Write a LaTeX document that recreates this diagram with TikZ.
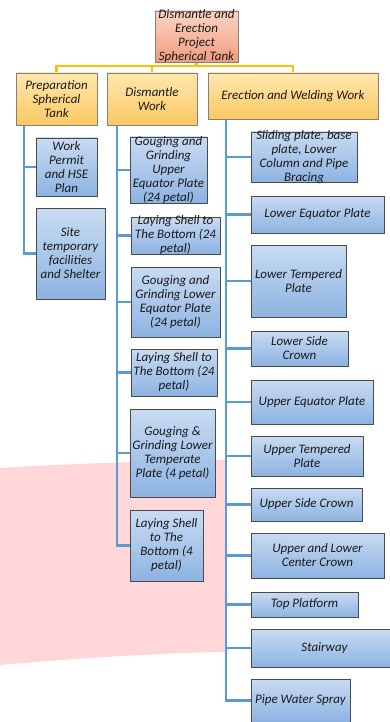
\documentclass[tikz,border=0pt]{standalone}
\usepackage{fontspec}
\setmainfont{Carlito}
\definecolor{bluetop}{HTML}{C8DBF2}
\definecolor{bluebot}{HTML}{8DB3E2}
\definecolor{orgtop}{HTML}{FFE7AE}
\definecolor{orgbot}{HTML}{FBC862}
\definecolor{roottop}{HTML}{FBD5C2}
\definecolor{rootbot}{HTML}{F09C7E}
\definecolor{boxline}{HTML}{4A4A4A}
\definecolor{grayline}{HTML}{808080}
\definecolor{linkblue}{HTML}{5B9BD5}
\definecolor{linkyel}{HTML}{FFC000}
\definecolor{pinkband}{HTML}{FFD7D9}
\definecolor{txtc}{HTML}{1A1A1A}
\pgfdeclarelayer{bg}
\pgfsetlayers{bg,main}
\newcommand\obox[8]{%
  \node[#1, minimum width=#5pt, minimum height=#6pt] (#2) at (#3,#4) {};
  \node[txt] at ([xshift=#7pt]#2.center) {#8};}
\begin{document}
\begin{tikzpicture}[x=1pt,y=-1pt,
  basebox/.style={rectangle, inner sep=0pt, outer sep=0pt, anchor=north west, line width=0.8pt},
  bluebox/.style={basebox, draw=boxline, top color=bluetop, bottom color=bluebot},
  orgbox/.style={basebox, draw=grayline, top color=orgtop, bottom color=orgbot},
  rootbox/.style={basebox, draw=grayline, top color=roottop, bottom color=rootbot},
  txt/.style={inner sep=0pt, align=center, text=txtc, font=\fontsize{13}{14}\selectfont\itshape},
  bl/.style={draw=linkblue, line width=2.8pt},
  yl/.style={draw=linkyel, line width=2.6pt}]
\useasboundingbox (0,0) rectangle (390,722);
% root and level 1
\obox{rootbox}{root}{155}{11}{83}{51}{0}{Dismantle and\\Erection\\Project\\Spherical Tank}
\obox{orgbox}{prep}{16}{73}{81}{52}{0}{Preparation\\Spherical\\Tank}
\obox{orgbox}{dism}{107}{73}{90}{52}{0}{Dismantle\\Work}
\obox{orgbox}{erec}{208}{73}{170}{46}{0}{Erection and Welding Work}
% preparation children
\obox{bluebox}{wp}{36}{138}{61}{58}{0}{Work\\Permit\\and HSE\\Plan}
\obox{bluebox}{site}{36}{208}{69}{91}{0}{Site\\temporary\\facilities\\and Shelter}
% dismantle children
\obox{bluebox}{gu}{130}{137}{77}{66}{0}{Gouging and\\Grinding\\Upper\\Equator Plate\\(24 petal)}
\obox{bluebox}{lsa}{131}{217}{89}{37}{0}{Laying Shell to\\The Bottom (24\\petal)}
\obox{bluebox}{gl}{131}{267}{89}{70}{0}{Gouging and\\Grinding Lower\\Equator Plate\\(24 petal)}
\obox{bluebox}{lsb}{131}{349}{86}{47}{0}{Laying Shell to\\The Bottom (24\\petal)}
\obox{bluebox}{gg}{130}{409}{85}{88}{0}{Gouging \&\\Grinding Lower\\Temperate\\Plate (4 petal)}
\obox{bluebox}{lsc}{130}{510}{73}{71}{0}{Laying Shell\\to The\\Bottom (4\\petal)}
% erection children
\obox{bluebox}{sp}{251}{132}{106}{50}{0}{Sliding plate, base\\plate, Lower\\Column and Pipe\\Bracing}
\obox{bluebox}{lep}{251}{196}{133}{37}{0}{Lower Equator Plate}
\obox{bluebox}{ltp}{251}{245}{95}{72}{0}{Lower Tempered\\Plate}
\obox{bluebox}{lsd}{251}{331}{97}{35}{0}{Lower Side\\Crown}
\obox{bluebox}{uep}{251}{380}{122}{44}{0}{Upper Equator Plate}
\obox{bluebox}{utp}{251}{436}{112}{40}{0}{Upper Tempered\\Plate}
\obox{bluebox}{usc}{251}{488}{111}{33}{0}{Upper Side Crown}
\obox{bluebox}{ulc}{251}{533}{133}{45}{0}{Upper and Lower\\Center Crown}
\obox{bluebox}{tp}{251}{592}{107}{25}{0}{Top Platform}
\obox{bluebox}{st}{251}{629}{139}{38}{4}{Stairway}
\obox{bluebox}{pws}{251}{679}{99}{43}{0}{Pipe Water Spray}
\begin{pgfonlayer}{bg}
\fill[pinkband] (0,468) .. controls (80,463) and (160,461) .. (225,460) -- (225,652) .. controls (160,653) and (80,658) .. (0,665) -- cycle;
\coordinate (hub) at (197,66);
\draw[yl] (root.south) -- (root.south |- hub);
\draw[yl] (prep.north) |- (hub) -| (erec.north);
\draw[yl] (dism.north) -- (dism.north |- hub);
\coordinate (pv) at ([xshift=8pt]prep.south west);
\draw[bl] (pv) |- (wp.west);
\draw[bl] (pv) |- (site.west);
\coordinate (dv) at ([xshift=10pt]dism.south west);
\foreach \n in {gu,lsa,gl,lsb,gg,lsc} \draw[bl] (dv) |- (\n.west);
\coordinate (ev) at ([xshift=18pt]erec.south west);
\foreach \n in {sp,lep,ltp,lsd,uep,utp,usc,ulc,tp,st,pws} \draw[bl] (ev) |- (\n.west);
\end{pgfonlayer}
\end{tikzpicture}
\end{document}
